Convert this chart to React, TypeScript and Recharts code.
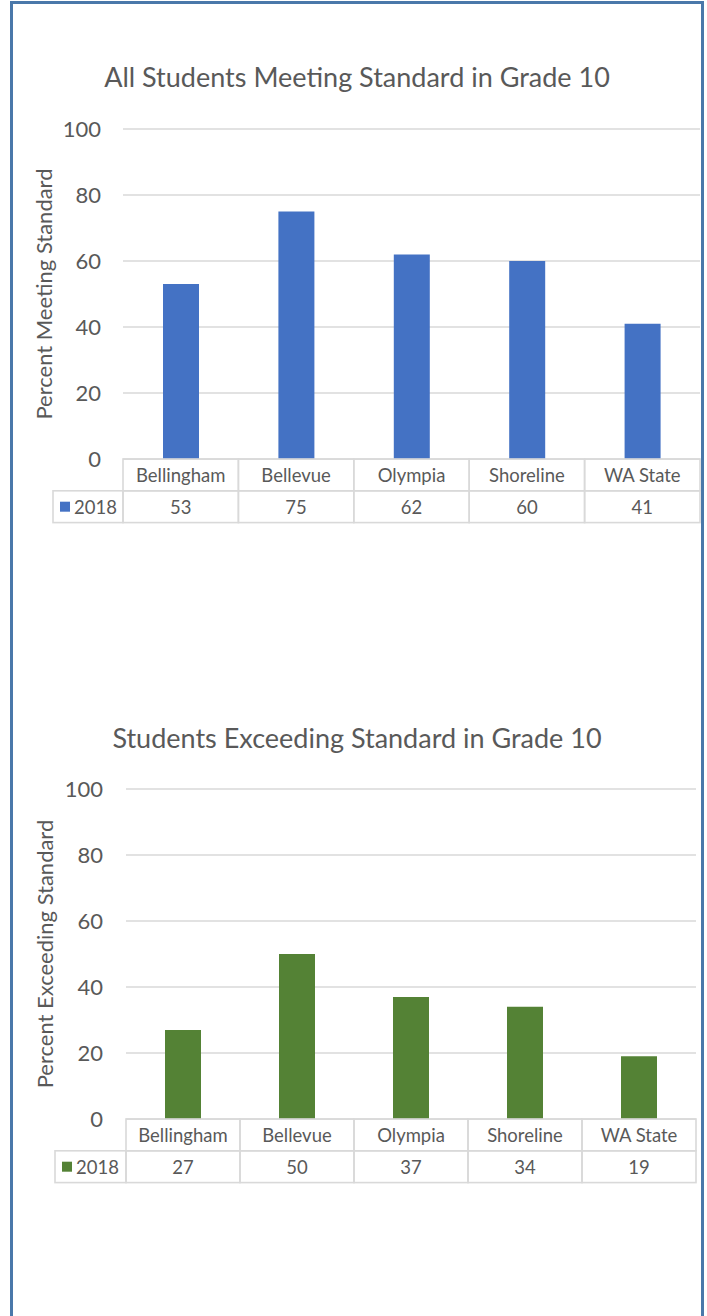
import React from 'react';
import { BarChart, Bar, XAxis, YAxis, CartesianGrid } from 'recharts';

const categories = ['Bellingham', 'Bellevue', 'Olympia', 'Shoreline', 'WA State'];
const meetingValues = [53, 75, 62, 60, 41];
const exceedingValues = [27, 50, 37, 34, 19];
const seriesName = '2018';
const yTicks = [0, 20, 40, 60, 80, 100];

const FONT = 'Lato, "Noto Sans", sans-serif';
const TEXT = '#595959';
const LINE = '#d9d9d9';
const TITLE_SIZE = 27;
const TABLE_SIZE = 18.5;

type ChartProps = {
  title: string;
  yLabel: string;
  values: number[];
  color: string;
  top: number;
  plotTop: number;
  plotHeight: number;
  axisWidth: number;
  rightMargin: number;
  tickGap: number;
  labelX: number;
  titleBaseline: number;
  legendW: number;
};

function TableChart(p: ChartProps) {
  const W = 707;
  const rowH = 31.8;
  const tableH = rowH * 2;
  const data = categories.map((name, i) => ({ name, value: p.values[i] }));
  const bw = (W - p.axisWidth - p.rightMargin) / categories.length;
  const H = p.plotTop + p.plotHeight + tableH + 2;

  const renderTick = (t: any) => {
    const { x, y, payload, index } = t;
    const left = x - bw / 2;
    return (
      <g>
        <rect x={left} y={y} width={bw} height={rowH} fill="none" stroke={LINE} strokeWidth={1.6} />
        <rect x={left} y={y + rowH} width={bw} height={rowH} fill="none" stroke={LINE} strokeWidth={1.6} />
        <text x={x} y={y + rowH / 2} textAnchor="middle" dominantBaseline="central" fill={TEXT} fontSize={TABLE_SIZE} fontFamily={FONT}>
          {payload.value}
        </text>
        <text x={x} y={y + rowH * 1.5} textAnchor="middle" dominantBaseline="central" fill={TEXT} fontSize={TABLE_SIZE} fontFamily={FONT}>
          {data[index].value}
        </text>
        {index === 0 && (
          <g>
            <rect x={left - p.legendW} y={y + rowH} width={p.legendW} height={rowH} fill="none" stroke={LINE} strokeWidth={1.6} />
            <rect x={left - p.legendW + 7} y={y + rowH * 1.5 - 5} width={10} height={10} fill={p.color} />
            <text x={left - p.legendW + 21} y={y + rowH * 1.5} dominantBaseline="central" fill={TEXT} fontSize={TABLE_SIZE} fontFamily={FONT}>
              {seriesName}
            </text>
          </g>
        )}
      </g>
    );
  };

  const renderLabel = (lp: any) => {
    const vb = lp.viewBox || {};
    const cy = (vb.y || 0) + (vb.height || 0) / 2;
    return (
      <text
        x={p.labelX}
        y={cy}
        transform={`rotate(-90 ${p.labelX} ${cy})`}
        textAnchor="middle"
        dominantBaseline="central"
        fill={TEXT}
        fontSize={22}
        fontFamily={FONT}
      >
        {p.yLabel}
      </text>
    );
  };

  return (
    <div style={{ position: 'absolute', left: 0, top: p.top, width: W, height: H }}>
      <div
        style={{
          position: 'absolute',
          left: 0,
          width: W,
          top: p.titleBaseline - p.top - TITLE_SIZE * 0.987,
          textAlign: 'center',
          fontFamily: FONT,
          fontSize: TITLE_SIZE,
          lineHeight: `${TITLE_SIZE * 1.2}px`,
          color: TEXT,
          paddingLeft: 7,
          boxSizing: 'border-box',
        }}
      >
        {p.title}
      </div>
      <div style={{ position: 'absolute', left: 0, top: 0 }}>
        <BarChart
          width={W}
          height={H}
          data={data}
          margin={{ top: p.plotTop, right: p.rightMargin, bottom: 2, left: 0 }}
        >
          <CartesianGrid vertical={false} stroke={LINE} strokeWidth={1.6} />
          <XAxis
            dataKey="name"
            type="category"
            interval={0}
            tickLine={false}
            axisLine={false}
            tickSize={0}
            tickMargin={0}
            height={tableH}
            tick={renderTick}
          />
          <YAxis
            domain={[0, 100]}
            ticks={yTicks}
            width={p.axisWidth}
            tickLine={false}
            axisLine={false}
            tickSize={0}
            tickMargin={p.tickGap}
            tick={{ fill: TEXT, fontSize: 22, fontFamily: FONT }}
            label={renderLabel}
          />
          <Bar dataKey="value" fill={p.color} barSize={36} isAnimationActive={false} />
        </BarChart>
      </div>
    </div>
  );
}

export default function App() {
  return (
    <div style={{ position: 'absolute', left: 0, top: 0, width: 707, height: 1316, overflow: 'hidden', background: '#fff' }}>
      <div
        style={{
          position: 'absolute',
          left: 10,
          top: 1,
          width: 694,
          height: 1400,
          border: '3px solid #4a78aa',
          boxSizing: 'border-box',
        }}
      />
      <TableChart
        title="All Students Meeting Standard in Grade 10"
        yLabel="Percent Meeting Standard"
        values={meetingValues}
        color="#4472C4"
        top={0}
        plotTop={129}
        plotHeight={330}
        axisWidth={123}
        rightMargin={7}
        tickGap={22}
        labelX={43.5}
        titleBaseline={88}
        legendW={70}
      />
      <TableChart
        title="Students Exceeding Standard in Grade 10"
        yLabel="Percent Exceeding Standard"
        values={exceedingValues}
        color="#548235"
        top={600}
        plotTop={189}
        plotHeight={330}
        axisWidth={126}
        rightMargin={11}
        tickGap={23}
        labelX={45}
        titleBaseline={748.5}
        legendW={71}
      />
    </div>
  );
}
